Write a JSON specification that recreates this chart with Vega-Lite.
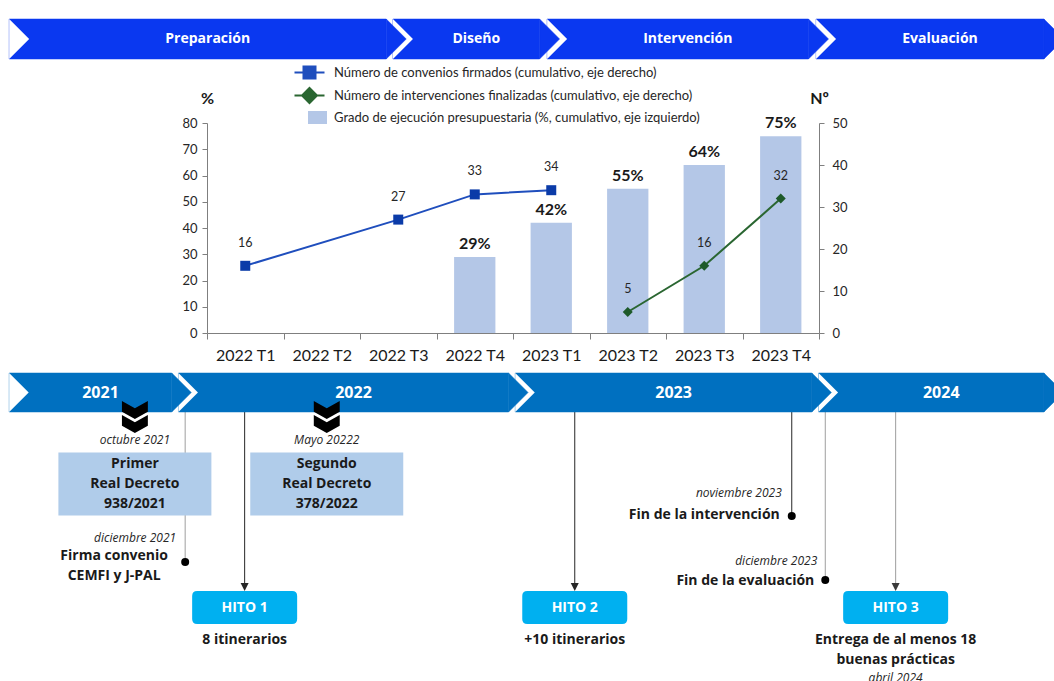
{
  "$schema": "https://vega.github.io/schema/vega-lite/v6.json",
  "background": "white",
  "padding": {"left": 0, "top": 18, "right": 0, "bottom": 0},
  "config": {"view": {"stroke": null}},
  "spacing": 40,
  "bounds": "flush",
  "resolve": {"scale": {"color": "independent", "fill": "independent", "shape": "independent"}, "legend": {"color": "independent"}},
  "vconcat": [
    {
      "width": 1054,
      "height": 64,
      "data": {
        "values": [
          {"fase": "Preparación", "inicio": "2021-05-10", "fin": "2022-08-03"},
          {"fase": "Diseño", "inicio": "2022-08-11", "fin": "2023-02-02"},
          {"fase": "Intervención", "inicio": "2023-02-11", "fin": "2023-12-20"},
          {"fase": "Evaluación", "inicio": "2023-12-29", "fin": "2024-09-26"}
        ],
        "format": {"parse": {"inicio": "date", "fin": "date"}}
      },
      "layer": [
        {
          "mark": {"type": "rect", "color": "#0A38F0", "stroke": "#0A38F0", "strokeWidth": 0.5},
          "encoding": {
            "x": {"field": "inicio", "type": "temporal", "scale": {"domain": [{"year": 2021, "month": 4, "date": 29, "utc": true}, {"year": 2024, "month": 10, "date": 8, "utc": true}]}, "axis": null},
            "x2": {"field": "fin"},
            "y": {"datum": 18, "type": "quantitative", "scale": {"domain": [18, 82], "reverse": true}, "axis": null},
            "y2": {"datum": 58}
          }
        },
        {
          "mark": {"type": "point", "shape": "M0,-1L1,0L0,1Z", "size": 1600, "filled": true, "color": "white", "opacity": 1, "strokeWidth": 0},
          "encoding": {
            "x": {"field": "inicio", "type": "temporal", "axis": null},
            "y": {"datum": 38, "type": "quantitative", "scale": {"domain": [18, 82], "reverse": true}, "axis": null}
          }
        },
        {
          "mark": {"type": "point", "shape": "M0,-1L1,0L0,1Z", "size": 1600, "filled": true, "color": "#0A38F0", "opacity": 1, "stroke": "#0A38F0", "strokeWidth": 0.5},
          "encoding": {
            "x": {"field": "fin", "type": "temporal", "axis": null},
            "y": {"datum": 38, "type": "quantitative", "scale": {"domain": [18, 82], "reverse": true}, "axis": null}
          }
        },
        {
          "transform": [{"fold": ["inicio", "fin"], "as": ["limite", "fecha"]}],
          "mark": {"type": "text", "font": "Open Sans", "fontWeight": "bold", "fontSize": 14, "color": "white", "dx": 10},
          "encoding": {
            "x": {"aggregate": "mean", "field": "fecha", "type": "temporal", "axis": null},
            "y": {"datum": 38, "type": "quantitative", "scale": {"domain": [18, 82], "reverse": true}, "axis": null},
            "text": {"field": "fase", "type": "nominal"}
          }
        }
      ]
    },
    {
      "width": 1054,
      "height": 210,
      "resolve": {"scale": {"y": "independent"}},
      "layer": [
        {
          "data": {"values": [
            {"trimestre": "2022 T4", "grado": 0.29},
            {"trimestre": "2023 T1", "grado": 0.42},
            {"trimestre": "2023 T2", "grado": 0.55},
            {"trimestre": "2023 T3", "grado": 0.64},
            {"trimestre": "2023 T4", "grado": 0.75}
          ]},
          "encoding": {
            "x": {
              "field": "trimestre", "type": "nominal", "sort": null,
              "scale": {"domain": ["2022 T1", "2022 T2", "2022 T3", "2022 T4", "2023 T1", "2023 T2", "2023 T3", "2023 T4"], "range": [207, 819], "paddingInner": 0, "paddingOuter": 0},
              "axis": {"title": null, "labelAngle": 0, "tickBand": "extent", "labelFont": "Lato", "labelFontSize": 16, "labelColor": "#1a1a1a", "labelPadding": 8, "tickSize": 6, "tickColor": "#7f7f7f", "domainColor": "#7f7f7f", "grid": false}
            },
            "y": {
              "field": "grado", "type": "quantitative", "scale": {"domain": [0, 0.8]},
              "axis": {"orient": "left", "offset": -207, "values": [0, 0.1, 0.2, 0.3, 0.4, 0.5, 0.6, 0.7, 0.8], "labelExpr": "format(datum.value * 100, '.0f')", "grid": false, "title": "%", "titleAngle": 0, "titleX": 0, "titleY": -25, "titleAlign": "center", "titleBaseline": "middle", "titleFont": "Lato", "titleFontSize": 16, "titleFontWeight": "bold", "titleColor": "#1a1a1a", "labelFont": "Lato", "labelFontSize": 13, "labelColor": "#262626", "labelPadding": 5, "tickSize": 5, "tickColor": "#7f7f7f", "domainColor": "#7f7f7f"}
            }
          },
          "layer": [
            {
              "mark": {"type": "bar", "width": {"band": 0.54}},
              "encoding": {
                "color": {
                  "datum": "Grado de ejecución presupuestaria (%, cumulativo, eje izquierdo)", "type": "nominal",
                  "scale": {"domain": ["Número de convenios firmados (cumulativo, eje derecho)", "Número de intervenciones finalizadas (cumulativo, eje derecho)", "Grado de ejecución presupuestaria (%, cumulativo, eje izquierdo)"], "range": ["#1F4EBD", "#2A6631", "#B4C7E7"]},
                  "legend": {
                    "orient": "none", "legendX": 303, "legendY": -57, "title": null, "padding": 0, "direction": "vertical",
                    "labelFont": "Lato", "labelFontSize": 13, "labelColor": "#262626", "labelOffset": 18, "labelLimit": 600,
                    "rowPadding": 1, "symbolSize": 100, "symbolStrokeWidth": 2, "symbolOpacity": 1,
                    "encode": {"symbols": {"update": {
                      "shape": {"signal": "datum.index === 0 ? 'M-3,0H3M-1.2,-1.2H1.2V1.2H-1.2Z' : datum.index === 1 ? 'M-3,0H3M0,-1.5L1.5,0L0,1.5L-1.5,0Z' : 'M-0.1,-1.1H3.3V1.1H-0.1Z'"},
                      "fill": {"signal": "datum.index === 0 ? '#0B3BA8' : datum.index === 1 ? '#1E5A2A' : '#B4C7E7'"},
                      "stroke": {"signal": "datum.index === 0 ? '#1F4EBD' : datum.index === 1 ? '#2A6631' : '#B4C7E7'"}
                    }}}
                  }
                }
              }
            },
            {
              "mark": {"type": "text", "font": "Lato", "fontSize": 16, "fontWeight": "bold", "color": "#1a1a1a", "baseline": "bottom", "dy": -5},
              "encoding": {"text": {"field": "grado", "type": "quantitative", "format": ".0%"}}
            }
          ]
        },
        {
          "data": {"values": [
            {"trimestre": "2022 T1", "serie": "Número de convenios firmados (cumulativo, eje derecho)", "valor": 16},
            {"trimestre": "2022 T3", "serie": "Número de convenios firmados (cumulativo, eje derecho)", "valor": 27},
            {"trimestre": "2022 T4", "serie": "Número de convenios firmados (cumulativo, eje derecho)", "valor": 33},
            {"trimestre": "2023 T1", "serie": "Número de convenios firmados (cumulativo, eje derecho)", "valor": 34},
            {"trimestre": "2023 T2", "serie": "Número de intervenciones finalizadas (cumulativo, eje derecho)", "valor": 5},
            {"trimestre": "2023 T3", "serie": "Número de intervenciones finalizadas (cumulativo, eje derecho)", "valor": 16},
            {"trimestre": "2023 T4", "serie": "Número de intervenciones finalizadas (cumulativo, eje derecho)", "valor": 32}
          ]},
          "encoding": {
            "x": {"field": "trimestre", "type": "nominal", "sort": null},
            "y": {
              "field": "valor", "type": "quantitative", "scale": {"domain": [0, 50]},
              "axis": {"orient": "right", "offset": -235, "values": [0, 10, 20, 30, 40, 50], "grid": false, "title": "Nº", "titleAngle": 0, "titleX": 0, "titleY": -25, "titleAlign": "center", "titleBaseline": "middle", "titleFont": "Lato", "titleFontSize": 16, "titleFontWeight": "bold", "titleColor": "#1a1a1a", "labelFont": "Lato", "labelFontSize": 13, "labelColor": "#262626", "labelPadding": 8, "tickSize": 5, "tickColor": "#7f7f7f", "domainColor": "#7f7f7f"}
            }
          },
          "layer": [
            {
              "mark": {"type": "line", "strokeWidth": 2},
              "encoding": {"color": {
                "field": "serie", "type": "nominal", "title": null,
                "scale": {"domain": ["Número de convenios firmados (cumulativo, eje derecho)", "Número de intervenciones finalizadas (cumulativo, eje derecho)", "Grado de ejecución presupuestaria (%, cumulativo, eje izquierdo)"], "range": ["#1F4EBD", "#2A6631", "#B4C7E7"]},
                "legend": {
                  "orient": "none", "legendX": 303, "legendY": -57, "title": null, "padding": 0, "direction": "vertical",
                  "labelFont": "Lato", "labelFontSize": 13, "labelColor": "#262626", "labelOffset": 18, "labelLimit": 600,
                  "rowPadding": 1, "symbolSize": 100, "symbolStrokeWidth": 2, "symbolOpacity": 1,
                  "encode": {"symbols": {"update": {
                    "shape": {"signal": "datum.index === 0 ? 'M-3,0H3M-1.2,-1.2H1.2V1.2H-1.2Z' : datum.index === 1 ? 'M-3,0H3M0,-1.5L1.5,0L0,1.5L-1.5,0Z' : 'M-0.1,-1.1H3.3V1.1H-0.1Z'"},
                    "fill": {"signal": "datum.index === 0 ? '#0B3BA8' : datum.index === 1 ? '#1E5A2A' : '#B4C7E7'"},
                    "stroke": {"signal": "datum.index === 0 ? '#1F4EBD' : datum.index === 1 ? '#2A6631' : '#B4C7E7'"}
                  }}}
                }
              }}
            },
            {
              "mark": {"type": "point", "filled": true, "opacity": 1, "size": 100, "strokeWidth": 0},
              "encoding": {
                "shape": {"field": "serie", "type": "nominal", "scale": {"domain": ["Número de convenios firmados (cumulativo, eje derecho)", "Número de intervenciones finalizadas (cumulativo, eje derecho)"], "range": ["square", "diamond"]}, "legend": null},
                "fill": {"field": "serie", "type": "nominal", "scale": {"domain": ["Número de convenios firmados (cumulativo, eje derecho)", "Número de intervenciones finalizadas (cumulativo, eje derecho)"], "range": ["#0B3BA8", "#1E5A2A"]}, "legend": null}
              }
            },
            {
              "mark": {"type": "text", "font": "Lato", "fontSize": 12.5, "color": "#262626", "dy": -23},
              "encoding": {"text": {"field": "valor", "type": "quantitative"}}
            }
          ]
        }
      ]
    },
    {
      "width": 1054,
      "height": 309,
      "data": {
        "values": [
          {"id": "rd1", "fecha": "2021-10-07", "mes": "octubre 2021", "texto": "Primer\nReal Decreto\n938/2021"},
          {"id": "rd2", "fecha": "2022-05-24", "mes": "Mayo 20222", "texto": "Segundo\nReal Decreto\n378/2022"},
          {"id": "firma", "fecha": "2021-12-06", "mes": "diciembre 2021", "texto": "Firma convenio\nCEMFI y J-PAL"},
          {"id": "finint", "fecha": "2023-11-30", "mes": "noviembre 2023", "texto": "Fin de la intervención"},
          {"id": "fineval", "fecha": "2024-01-09", "mes": "diciembre 2023", "texto": "Fin de la evaluación"},
          {"id": "hito1", "fecha": "2022-02-15", "hito": "HITO 1", "texto": "8 itinerarios"},
          {"id": "hito2", "fecha": "2023-03-16", "hito": "HITO 2", "texto": "+10 itinerarios"},
          {"id": "hito3", "fecha": "2024-04-02", "hito": "HITO 3", "mes": "abril 2024", "texto": "Entrega de al menos 18\nbuenas prácticas"}
        ],
        "format": {"parse": {"fecha": "date"}}
      },
      "encoding": {
        "x": {"field": "fecha", "type": "temporal", "scale": {"domain": [{"year": 2021, "month": 4, "date": 29, "utc": true}, {"year": 2024, "month": 10, "date": 8, "utc": true}]}, "axis": null}
      },
      "layer": [
        {
          "transform": [{"filter": "datum.id === 'firma'"}],
          "mark": {"type": "rule", "color": "#9E9E9E", "strokeWidth": 1},
          "encoding": {"y": {"datum": 392, "type": "quantitative", "scale": {"domain": [372, 681], "reverse": true}, "axis": null}, "y2": {"datum": 561}}
        },
        {
          "transform": [{"filter": "datum.id === 'fineval'"}],
          "mark": {"type": "rule", "color": "#9E9E9E", "strokeWidth": 1},
          "encoding": {"y": {"datum": 392, "type": "quantitative", "scale": {"domain": [372, 681], "reverse": true}, "axis": null}, "y2": {"datum": 579}}
        },
        {
          "transform": [{"filter": "datum.id === 'hito3'"}],
          "mark": {"type": "rule", "color": "#9E9E9E", "strokeWidth": 1},
          "encoding": {"y": {"datum": 392, "type": "quantitative", "scale": {"domain": [372, 681], "reverse": true}, "axis": null}, "y2": {"datum": 584}}
        },
        {
          "transform": [{"filter": {"field": "id", "oneOf": ["hito1", "hito2"]}}],
          "mark": {"type": "rule", "color": "#262626", "strokeWidth": 1},
          "encoding": {"y": {"datum": 392, "type": "quantitative", "scale": {"domain": [372, 681], "reverse": true}, "axis": null}, "y2": {"datum": 584}}
        },
        {
          "transform": [{"filter": "datum.id === 'finint'"}],
          "mark": {"type": "rule", "color": "#262626", "strokeWidth": 1},
          "encoding": {"y": {"datum": 392, "type": "quantitative", "scale": {"domain": [372, 681], "reverse": true}, "axis": null}, "y2": {"datum": 515}}
        },
        {
          "data": {
            "values": [
              {"anio": "2021", "inicio": "2021-05-10", "fin": "2021-11-20"},
              {"anio": "2022", "inicio": "2021-11-28", "fin": "2022-12-27"},
              {"anio": "2023", "inicio": "2023-01-04", "fin": "2023-12-24"},
              {"anio": "2024", "inicio": "2024-01-01", "fin": "2024-09-26"}
            ],
            "format": {"parse": {"inicio": "date", "fin": "date"}}
          },
          "layer": [
            {
              "mark": {"type": "rect", "color": "#0070C0", "stroke": "#0070C0", "strokeWidth": 0.5},
              "encoding": {
                "x": {"field": "inicio", "type": "temporal", "axis": null},
                "x2": {"field": "fin"},
                "y": {"datum": 372, "type": "quantitative", "scale": {"domain": [372, 681], "reverse": true}, "axis": null},
                "y2": {"datum": 411}
              }
            },
            {
              "mark": {"type": "point", "shape": "M0,-1L1,0L0,1Z", "size": 1521, "filled": true, "color": "white", "opacity": 1, "strokeWidth": 0},
              "encoding": {
                "x": {"field": "inicio", "type": "temporal", "axis": null},
                "y": {"datum": 391.5, "type": "quantitative", "scale": {"domain": [372, 681], "reverse": true}, "axis": null}
              }
            },
            {
              "mark": {"type": "point", "shape": "M0,-1L1,0L0,1Z", "size": 1521, "filled": true, "color": "#0070C0", "opacity": 1, "stroke": "#0070C0", "strokeWidth": 0.5},
              "encoding": {
                "x": {"field": "fin", "type": "temporal", "axis": null},
                "y": {"datum": 391.5, "type": "quantitative", "scale": {"domain": [372, 681], "reverse": true}, "axis": null}
              }
            },
            {
              "transform": [{"fold": ["inicio", "fin"], "as": ["limite", "fecha"]}],
              "mark": {"type": "text", "font": "Open Sans", "fontWeight": "bold", "fontSize": 16, "color": "white", "dx": 10},
              "encoding": {
                "x": {"aggregate": "mean", "field": "fecha", "type": "temporal", "axis": null},
                "y": {"datum": 392, "type": "quantitative", "scale": {"domain": [372, 681], "reverse": true}, "axis": null},
                "text": {"field": "anio", "type": "nominal"}
              }
            }
          ]
        },
        {
          "transform": [{"filter": {"field": "id", "oneOf": ["rd1", "rd2"]}}],
          "mark": {"type": "point", "shape": "M-0.81,-1L0,-0.55L0.81,-1L0.81,-0.325L0,0.125L-0.81,-0.325ZM-0.81,-0.125L0,0.325L0.81,-0.125L0.81,0.55L0,1L-0.81,0.55Z", "size": 1024, "filled": true, "color": "#000000", "opacity": 1, "strokeWidth": 0},
          "encoding": {"y": {"datum": 416, "type": "quantitative", "scale": {"domain": [372, 681], "reverse": true}, "axis": null}}
        },
        {
          "transform": [{"filter": {"field": "id", "oneOf": ["rd1", "rd2"]}}],
          "mark": {"type": "text", "font": "Open Sans", "fontStyle": "italic", "fontSize": 12, "color": "#262626"},
          "encoding": {"y": {"datum": 439, "type": "quantitative", "scale": {"domain": [372, 681], "reverse": true}, "axis": null}, "text": {"field": "mes", "type": "nominal"}}
        },
        {
          "transform": [{"filter": {"field": "id", "oneOf": ["rd1", "rd2"]}}],
          "mark": {"type": "point", "shape": "M-1,-0.412H1V0.412H-1Z", "size": 23409, "filled": true, "color": "#B0CCEA", "opacity": 1, "strokeWidth": 0},
          "encoding": {"y": {"datum": 483, "type": "quantitative", "scale": {"domain": [372, 681], "reverse": true}, "axis": null}}
        },
        {
          "transform": [{"filter": {"field": "id", "oneOf": ["rd1", "rd2"]}}],
          "mark": {"type": "text", "font": "Open Sans", "fontWeight": "bold", "fontSize": 14, "color": "#1a1a1a", "lineBreak": "\n", "lineHeight": 20, "baseline": "middle"},
          "encoding": {"y": {"datum": 463, "type": "quantitative", "scale": {"domain": [372, 681], "reverse": true}, "axis": null}, "text": {"field": "texto", "type": "nominal"}}
        },
        {
          "transform": [{"filter": "datum.id === 'firma'"}],
          "mark": {"type": "point", "shape": "circle", "size": 64, "filled": true, "color": "#000000", "opacity": 1, "strokeWidth": 0},
          "encoding": {"y": {"datum": 561, "type": "quantitative", "scale": {"domain": [372, 681], "reverse": true}, "axis": null}}
        },
        {
          "transform": [{"filter": "datum.id === 'finint'"}],
          "mark": {"type": "point", "shape": "circle", "size": 64, "filled": true, "color": "#000000", "opacity": 1, "strokeWidth": 0},
          "encoding": {"y": {"datum": 515, "type": "quantitative", "scale": {"domain": [372, 681], "reverse": true}, "axis": null}}
        },
        {
          "transform": [{"filter": "datum.id === 'fineval'"}],
          "mark": {"type": "point", "shape": "circle", "size": 64, "filled": true, "color": "#000000", "opacity": 1, "strokeWidth": 0},
          "encoding": {"y": {"datum": 579, "type": "quantitative", "scale": {"domain": [372, 681], "reverse": true}, "axis": null}}
        },
        {
          "transform": [{"filter": "datum.id === 'firma'"}],
          "mark": {"type": "text", "font": "Open Sans", "fontStyle": "italic", "fontSize": 12, "color": "#262626", "align": "right", "dx": -9},
          "encoding": {"y": {"datum": 537, "type": "quantitative", "scale": {"domain": [372, 681], "reverse": true}, "axis": null}, "text": {"field": "mes", "type": "nominal"}}
        },
        {
          "transform": [{"filter": "datum.id === 'finint'"}],
          "mark": {"type": "text", "font": "Open Sans", "fontStyle": "italic", "fontSize": 12, "color": "#262626", "align": "right", "dx": -10},
          "encoding": {"y": {"datum": 492, "type": "quantitative", "scale": {"domain": [372, 681], "reverse": true}, "axis": null}, "text": {"field": "mes", "type": "nominal"}}
        },
        {
          "transform": [{"filter": "datum.id === 'fineval'"}],
          "mark": {"type": "text", "font": "Open Sans", "fontStyle": "italic", "fontSize": 12, "color": "#262626", "align": "right", "dx": -8},
          "encoding": {"y": {"datum": 560, "type": "quantitative", "scale": {"domain": [372, 681], "reverse": true}, "axis": null}, "text": {"field": "mes", "type": "nominal"}}
        },
        {
          "transform": [{"filter": "datum.id === 'firma'"}],
          "mark": {"type": "text", "font": "Open Sans", "fontWeight": "bold", "fontSize": 14, "color": "#1a1a1a", "align": "center", "dx": -71, "lineBreak": "\n", "lineHeight": 20, "baseline": "middle"},
          "encoding": {"y": {"datum": 555, "type": "quantitative", "scale": {"domain": [372, 681], "reverse": true}, "axis": null}, "text": {"field": "texto", "type": "nominal"}}
        },
        {
          "transform": [{"filter": "datum.id === 'finint'"}],
          "mark": {"type": "text", "font": "Open Sans", "fontWeight": "bold", "fontSize": 14, "color": "#1a1a1a", "align": "right", "dx": -12},
          "encoding": {"y": {"datum": 514, "type": "quantitative", "scale": {"domain": [372, 681], "reverse": true}, "axis": null}, "text": {"field": "texto", "type": "nominal"}}
        },
        {
          "transform": [{"filter": "datum.id === 'fineval'"}],
          "mark": {"type": "text", "font": "Open Sans", "fontWeight": "bold", "fontSize": 14, "color": "#1a1a1a", "align": "right", "dx": -11},
          "encoding": {"y": {"datum": 580, "type": "quantitative", "scale": {"domain": [372, 681], "reverse": true}, "axis": null}, "text": {"field": "texto", "type": "nominal"}}
        },
        {
          "transform": [{"filter": {"field": "id", "oneOf": ["hito1", "hito2"]}}],
          "mark": {"type": "point", "shape": "M-1,-1L1,-1L0,1Z", "size": 64, "filled": true, "color": "#262626", "opacity": 1, "strokeWidth": 0},
          "encoding": {"y": {"datum": 586, "type": "quantitative", "scale": {"domain": [372, 681], "reverse": true}, "axis": null}}
        },
        {
          "transform": [{"filter": "datum.id === 'hito3'"}],
          "mark": {"type": "point", "shape": "M-1,-1L1,-1L0,1Z", "size": 64, "filled": true, "color": "#3A3A3A", "opacity": 1, "strokeWidth": 0},
          "encoding": {"y": {"datum": 586, "type": "quantitative", "scale": {"domain": [372, 681], "reverse": true}, "axis": null}}
        },
        {
          "transform": [{"filter": {"field": "id", "oneOf": ["hito1", "hito2", "hito3"]}}],
          "mark": {"type": "point", "shape": "M-0.905,-0.314H0.905Q1,-0.314 1,-0.219V0.219Q1,0.314 0.905,0.314H-0.905Q-1,0.314 -1,0.219V-0.219Q-1,-0.314 -0.905,-0.314Z", "size": 11025, "filled": true, "color": "#00B0F0", "opacity": 1, "strokeWidth": 0},
          "encoding": {"y": {"datum": 606.5, "type": "quantitative", "scale": {"domain": [372, 681], "reverse": true}, "axis": null}}
        },
        {
          "transform": [{"filter": {"field": "id", "oneOf": ["hito1", "hito2", "hito3"]}}],
          "mark": {"type": "text", "font": "Open Sans", "fontWeight": "bold", "fontSize": 14, "color": "white", "baseline": "middle"},
          "encoding": {"y": {"datum": 607, "type": "quantitative", "scale": {"domain": [372, 681], "reverse": true}, "axis": null}, "text": {"field": "hito", "type": "nominal"}}
        },
        {
          "transform": [{"filter": {"field": "id", "oneOf": ["hito1", "hito2", "hito3"]}}],
          "mark": {"type": "text", "font": "Open Sans", "fontWeight": "bold", "fontSize": 14, "color": "#1a1a1a", "baseline": "top", "lineBreak": "\n", "lineHeight": 20},
          "encoding": {"y": {"datum": 632, "type": "quantitative", "scale": {"domain": [372, 681], "reverse": true}, "axis": null}, "text": {"field": "texto", "type": "nominal"}}
        },
        {
          "transform": [{"filter": "datum.id === 'hito3'"}],
          "mark": {"type": "text", "font": "Open Sans", "fontStyle": "italic", "fontSize": 12, "color": "#262626", "baseline": "middle"},
          "encoding": {"y": {"datum": 677, "type": "quantitative", "scale": {"domain": [372, 681], "reverse": true}, "axis": null}, "text": {"field": "mes", "type": "nominal"}}
        }
      ]
    }
  ]
}
